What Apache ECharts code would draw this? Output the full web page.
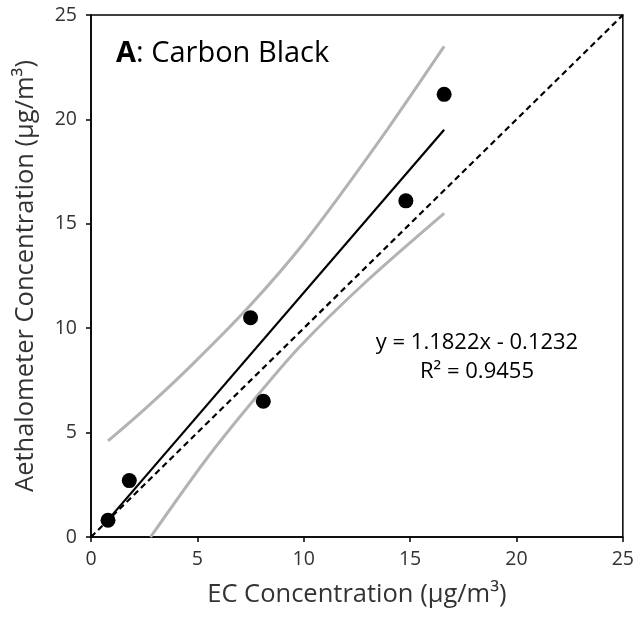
<!DOCTYPE html>
<html>
<head>
<meta charset="utf-8">
<script src="https://cdn.jsdelivr.net/npm/echarts@6/dist/echarts.min.js"></script>
<style>html,body{margin:0;padding:0;background:#fff}#c{width:637px;height:620px}</style>
</head>
<body>
<div id="c"></div>
<script>
// Observations
const ecX = [0.8, 1.8, 7.5, 8.1, 14.8, 16.6];
const aethY = [0.8, 2.7, 10.5, 6.5, 16.1, 21.2];
// Regression line endpoints (y = 1.1822x - 0.1232)
const fitX = [0.8, 16.6];
const fitY = [0.82, 19.50];
// 1:1 line
const oneX = [0, 25];
const oneY = [0, 25];
// Confidence band
const upperX = [0.8, 2.5, 4.6, 7.4, 10.1, 13.5, 16.6];
const upperY = [4.6, 6.1, 8.1, 11.0, 14.2, 18.9, 23.5];
const lowerX = [2.8, 5.4, 7.6, 9.8, 12.9, 16.6];
const lowerY = [0.0, 3.7, 6.5, 9.1, 12.2, 15.5];
// Ticks
const ticks = [0, 5, 10, 15, 20, 25];

const zip = (a, b) => a.map((v, i) => [v, b[i]]);
const FONT = 'Open Sans';
const TXT = '#333';

const chart = echarts.init(document.getElementById('c'));
chart.setOption({
  animation: false,
  textStyle: { fontFamily: FONT },
  grid: { left: 91, right: 12, top: 15, bottom: 83, show: true, borderColor: '#000', borderWidth: 1.5, backgroundColor: '#fff' },
  xAxis: {
    type: 'value', min: ticks[0], max: ticks[ticks.length - 1], interval: 5,
    name: 'EC Concentration (µg/m³)', nameLocation: 'middle', nameGap: 45,
    nameTextStyle: { fontSize: 25.5, color: TXT, fontFamily: FONT },
    axisLine: { show: true, lineStyle: { color: '#000', width: 1.5 } },
    axisTick: { show: true, inside: false, length: 5, lineStyle: { color: '#000', width: 1.5 } },
    axisLabel: { fontSize: 19.5, color: TXT, margin: 12, fontFamily: FONT },
    splitLine: { show: false }
  },
  yAxis: {
    type: 'value', min: ticks[0], max: ticks[ticks.length - 1], interval: 5,
    name: 'Aethalometer Concentration (µg/m³)', nameLocation: 'middle', nameGap: 52,
    nameTextStyle: { fontSize: 25.5, color: TXT, fontFamily: FONT },
    axisLine: { show: true, lineStyle: { color: '#000', width: 1.5 } },
    axisTick: { show: true, inside: false, length: 5, lineStyle: { color: '#000', width: 1.5 } },
    axisLabel: { fontSize: 19.5, color: TXT, margin: 14, fontFamily: FONT },
    splitLine: { show: false }
  },
  series: [
    { type: 'line', data: zip(upperX, upperY), smooth: 0.3, symbol: 'none', lineStyle: { color: '#b3b3b3', width: 3 }, z: 2 },
    { type: 'line', data: zip(lowerX, lowerY), smooth: 0.3, symbol: 'none', lineStyle: { color: '#b3b3b3', width: 3 }, z: 2 },
    { type: 'line', data: zip(oneX, oneY), symbol: 'none', lineStyle: { color: '#000', width: 2.2, type: [6, 4] }, z: 3 },
    { type: 'line', data: zip(fitX, fitY), symbol: 'none', lineStyle: { color: '#000', width: 2.2 }, z: 3 },
    { type: 'scatter', data: zip(ecX, aethY), symbol: 'circle', symbolSize: 15, itemStyle: { color: '#000', opacity: 1 }, z: 4 }
  ],
  graphic: [
    { type: 'text', x: 116, y: 54, style: { text: '{b|A}: Carbon Black', rich: { b: { fontWeight: 'bold', fontSize: 29, fontFamily: FONT, fill: '#000' } }, font: '29px "Open Sans"', fill: '#000', textAlign: 'left', textVerticalAlign: 'middle' } },
    { type: 'text', x: 477, y: 343, style: { text: 'y = 1.1822x - 0.1232', font: '22px "Open Sans"', fill: '#000', textAlign: 'center', textVerticalAlign: 'middle' } },
    { type: 'text', x: 477, y: 372, style: { text: 'R² = 0.9455', font: '22px "Open Sans"', fill: '#000', textAlign: 'center', textVerticalAlign: 'middle' } }
  ]
});
</script>
</body>
</html>
